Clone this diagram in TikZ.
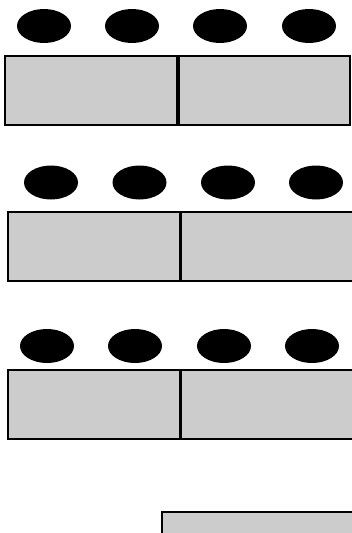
\documentclass[tikz,border=0pt]{standalone}
\begin{document}
\begin{tikzpicture}[x=1pt,y=-1pt,
  dot/.style={fill=black},
  panel/.style={fill={rgb,255:red,204;green,204;blue,204},draw=black,line width=1.6pt}]
\useasboundingbox (0,0) rectangle (352,533);
\clip (0,0) rectangle (352,533);
% row 1
\foreach \cx in {44,132,220,309} \fill[dot] (\cx,26) ellipse (27 and 17);
\draw[panel] (5,56) rectangle (177,125);
\draw[panel] (179,56) rectangle (350,125);
% row 2
\foreach \cx in {51,139.5,228,316} \fill[dot] (\cx,182.5) ellipse (27 and 17);
\draw[panel] (8,212) rectangle (180,281);
\draw[panel] (181.5,212) rectangle (360,281);
% row 3
\foreach \cx in {47,135,224,312} \fill[dot] (\cx,346) ellipse (27 and 17);
\draw[panel] (8,370) rectangle (180,439);
\draw[panel] (181.5,370) rectangle (360,439);
% row 4
\draw[panel] (162,512) rectangle (360,560);
\end{tikzpicture}
\end{document}
